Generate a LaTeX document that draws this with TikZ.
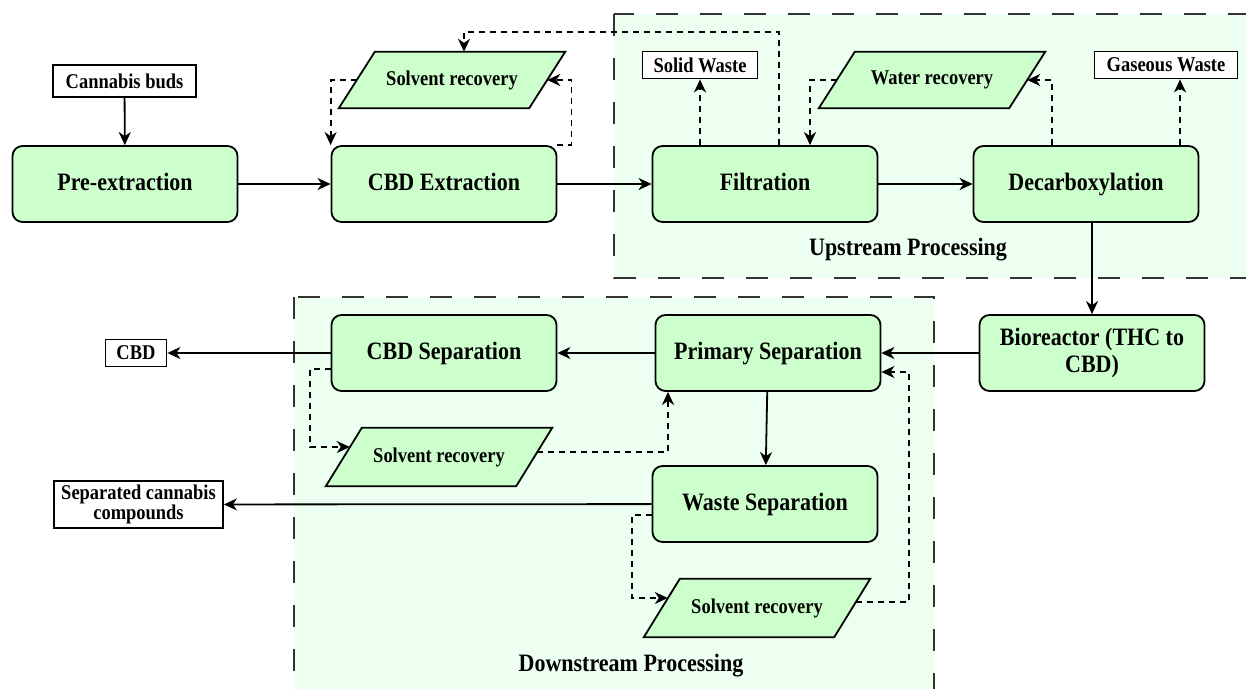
\documentclass[tikz,border=0pt]{standalone}
\usepackage{fontspec}
\setmainfont{Liberation Serif}[FakeStretch=0.88]
\usetikzlibrary{arrows.meta,calc}
\definecolor{boxgreen}{HTML}{CCFFCC}
\definecolor{grpgreen}{HTML}{ECFFF1}
\definecolor{grpline}{HTML}{333333}
\pgfdeclarelayer{grp}
\pgfdeclarelayer{bg}
\pgfsetlayers{grp,bg,main}
\tikzset{
 box/.style={draw=black, line width=1.8pt, fill=boxgreen, rounded corners=10pt, minimum width=225pt, minimum height=76pt, inner sep=0pt, font=\fontsize{25}{27}\selectfont\bfseries, align=center, text height=17pt, text depth=5pt},
 lbl/.style={draw=black, line width=1.8pt, fill=white, inner sep=0pt, font=\fontsize{21}{18}\selectfont\bfseries, align=center},
 para/.style={inner sep=0pt, minimum width=190pt, minimum height=56pt, font=\fontsize{21}{22}\selectfont\bfseries},
 arr/.style={-{Stealth[length=13pt,width=12pt,inset=4pt]}, line width=1.8pt},
 darr/.style={arr, dash pattern=on 6pt off 5pt},
 grpbox/.style={fill=grpgreen, draw=grpline, line width=2.5pt, dash pattern=on 22pt off 22pt},
 grplbl/.style={font=\fontsize{25}{27}\selectfont\bfseries}
}
\newcommand\drawpara[1]{\begin{pgfonlayer}{bg}\draw[line width=1.8pt, fill=boxgreen] ($(#1.south west)+(-18,0)$) -- ($(#1.north west)+(18,0)$) -- ($(#1.north east)+(18,0)$) -- ($(#1.south east)+(-18,0)$) -- cycle;\end{pgfonlayer}}
\begin{document}
\begin{tikzpicture}[x=1pt,y=-1pt]
\useasboundingbox (0,0) rectangle (1246,688);
\begin{pgfonlayer}{grp}
\draw[grpbox] (614,14) rectangle (1262,278);
\draw[grpbox] (294,297) rectangle (934,704);
\end{pgfonlayer}
\node[grplbl] (uplbl) at (908,250) {Upstream Processing};
\node[grplbl] (dnlbl) at (631,666) {Downstream Processing};

\node[lbl, minimum width=143pt, minimum height=32pt] (buds) at (124.5,81) {Cannabis buds};
\node[box] (pre) at (125,184) {Pre-extraction};
\node[box] (ext) at (444,184) {CBD Extraction};
\node[box] (filt) at (765,184) {Filtration};
\node[box] (dec) at (1086,184) {Decarboxylation};
\node[lbl, minimum width=115pt, minimum height=27pt] (sw) at (700,65) {Solid Waste};
\node[lbl, minimum width=143pt, minimum height=27pt] (gw) at (1166,65) {Gaseous Waste};
\node[box, text height=, text depth=] (bio) at (1092,353) {Bioreactor (THC to\\CBD)};
\node[box] (cbdsep) at (444,353) {CBD Separation};
\node[box] (prim) at (768,353) {Primary Separation};
\node[box] (ws) at (765,504) {Waste Separation};
\node[lbl, minimum width=61pt, minimum height=27pt] (cbd) at (136,353) {CBD};
\node[lbl, minimum width=169pt, minimum height=47pt] (sep) at (138.5,504.5) {Separated cannabis\\compounds};

\node[para] (sr1) at (452,80) {Solvent recovery};
\node[para] (wr) at (932,80) {Water recovery};
\node[para, minimum height=58pt] (sr2) at (439,457) {Solvent recovery};
\node[para, minimum height=58pt] (sr3) at (757,608) {Solvent recovery};
\drawpara{sr1}\drawpara{wr}\drawpara{sr2}\drawpara{sr3}

\draw[arr] (buds) -- (pre);
\draw[arr] (pre) -- (ext);
\draw[arr] (ext) -- (filt);
\draw[arr] (filt) -- (dec);
\draw[arr] (dec.south -| bio.north) -- (bio.north);
\draw[arr] (bio) -- (prim);
\draw[arr] (prim) -- (cbdsep);
\draw[arr] (cbdsep) -- (cbd);
\draw[arr] (prim) -- (ws);
\draw[arr] (ws) -- (sep);

\draw[darr] (ext.north east) -- ++(14,0) |- (sr1.east);
\draw[darr] (sr1.west) -| (ext.north west);
\draw[darr] ($(filt.north)+(14,0)$) -- ++(0,-113) -| ($(sr1.north)+(12,0)$);
\draw[darr] (filt.north -| sw.south) -- (sw.south);
\draw[darr] (wr.west) -| ($(filt.north)+(45,0)$);
\draw[darr] ($(dec.north)+(-34,0)$) |- (wr.east);
\coordinate (g1) at ($(gw.south)+(14,0)$);
\draw[darr] (g1 |- dec.north) -- (g1);

\draw[darr] ($(cbdsep.west)+(0,16)$) -- ++(-21,0) |- ($(sr2.west)+(6,-10)$);
\draw[darr] ($(sr2.east)+(3,-5)$) -| ($(prim.south)+(-100,0)$);
\draw[darr] ($(ws.west)+(0,11)$) -- ++(-20,0) |- ($(sr3.west)+(6,-10)$);
\draw[darr] ($(sr3.east)+(4,-6)$) -- ++(53,0) |- ($(prim.east)+(0,19)$);
\end{tikzpicture}
\end{document}
